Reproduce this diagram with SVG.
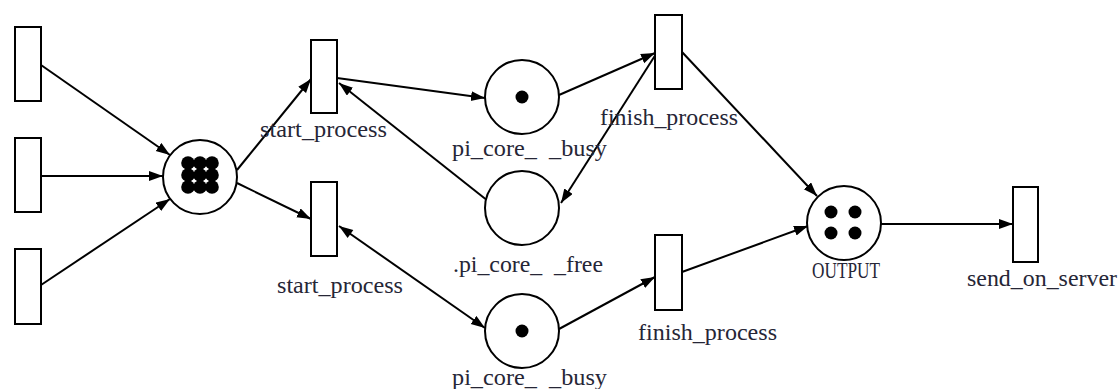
<svg xmlns="http://www.w3.org/2000/svg" width="1119" height="389" viewBox="0 0 1119 389">
<style>
.t{fill:#fff;stroke:#000;stroke-width:2}
.p{fill:#fff;stroke:#000;stroke-width:2}
.k{fill:#000}
.e{stroke:#000;stroke-width:2;fill:none}
.lb{font-family:"Liberation Serif","Times New Roman",serif;font-size:23px;fill:#262636}
</style>
<defs>
<marker id="a" markerUnits="userSpaceOnUse" markerWidth="15" markerHeight="11" refX="14" refY="5" orient="auto">
<path d="M0,0 L14,5 L0,10 z" fill="#000"/>
</marker>
<marker id="as" markerUnits="userSpaceOnUse" markerWidth="15" markerHeight="11" refX="0" refY="5" orient="auto">
<path d="M14,0 L0,5 L14,10 z" fill="#000"/>
</marker>
</defs>
<g id="connectors">
<line class="e" x1="41" y1="65" x2="170" y2="155" marker-end="url(#a)"/>
<line class="e" x1="41" y1="176" x2="163" y2="176" marker-end="url(#a)"/>
<line class="e" x1="41" y1="285" x2="170" y2="199" marker-end="url(#a)"/>
<line class="e" x1="237" y1="170" x2="311" y2="79" marker-end="url(#a)"/>
<line class="e" x1="237" y1="183" x2="311" y2="219" marker-end="url(#a)"/>
<line class="e" x1="337" y1="78" x2="485" y2="98" marker-end="url(#a)"/>
<line class="e" x1="488" y1="201" x2="339" y2="83" marker-end="url(#a)"/>
<line class="e" x1="559" y1="95" x2="655" y2="53" marker-end="url(#a)"/>
<line class="e" x1="656" y1="54" x2="561" y2="203" marker-end="url(#a)"/>
<line class="e" x1="682" y1="52" x2="817" y2="196" marker-end="url(#a)"/>
<line class="e" x1="339" y1="226" x2="485" y2="328" marker-start="url(#as)" marker-end="url(#a)"/>
<line class="e" x1="559" y1="329" x2="655" y2="277" marker-end="url(#a)"/>
<line class="e" x1="682" y1="272" x2="808" y2="226" marker-end="url(#a)"/>
<line class="e" x1="881" y1="224" x2="1013" y2="224" marker-end="url(#a)"/>
</g>
<g id="t_in1"><rect class="t" x="15" y="27" width="26" height="74"/></g>
<g id="t_in2"><rect class="t" x="15" y="138" width="26" height="74"/></g>
<g id="t_in3"><rect class="t" x="15" y="249" width="26" height="75"/></g>
<g id="p_input">
<circle class="p" cx="200" cy="177" r="37"/>
<g class="k">
<circle cx="188" cy="163" r="6.8"/><circle cx="200" cy="163" r="6.8"/><circle cx="212" cy="163" r="6.8"/>
<circle cx="188" cy="175" r="6.8"/><circle cx="200" cy="175" r="6.8"/><circle cx="212" cy="175" r="6.8"/>
<circle cx="188" cy="187" r="6.8"/><circle cx="200" cy="187" r="6.8"/><circle cx="212" cy="187" r="6.8"/>
</g>
</g>
<g id="t_start1"><rect class="t" x="311" y="40" width="26" height="73"/>
<text class="lb" x="260" y="137" textLength="127" lengthAdjust="spacingAndGlyphs">start_process</text></g>
<g id="t_start2"><rect class="t" x="311" y="182" width="26" height="74"/>
<text class="lb" x="277" y="293" textLength="126" lengthAdjust="spacingAndGlyphs">start_process</text></g>
<g id="p_busy1"><circle class="p" cx="522" cy="97" r="37"/><circle class="k" cx="522" cy="97" r="6.5"/>
<text class="lb" x="452" y="156" textLength="155" lengthAdjust="spacingAndGlyphs" xml:space="preserve">pi_core_  _busy</text></g>
<g id="p_free"><circle class="p" cx="522" cy="208" r="37"/>
<text class="lb" x="453" y="272" textLength="150" lengthAdjust="spacingAndGlyphs" xml:space="preserve">.pi_core_  _free</text></g>
<g id="p_busy2"><circle class="p" cx="522" cy="331" r="37"/><circle class="k" cx="522" cy="331" r="6.5"/>
<text class="lb" x="452" y="385" textLength="155" lengthAdjust="spacingAndGlyphs" xml:space="preserve">pi_core_  _busy</text></g>
<g id="t_finish1"><rect class="t" x="655" y="15" width="27" height="74"/>
<text class="lb" x="600" y="125" textLength="138" lengthAdjust="spacingAndGlyphs">finish_process</text></g>
<g id="t_finish2"><rect class="t" x="655" y="235" width="27" height="75"/>
<text class="lb" x="638" y="340" textLength="139" lengthAdjust="spacingAndGlyphs">finish_process</text></g>
<g id="p_output"><circle class="p" cx="844" cy="223" r="37"/>
<g class="k"><circle cx="831" cy="212" r="6.5"/><circle cx="855" cy="212" r="6.5"/><circle cx="831" cy="233" r="6.5"/><circle cx="855" cy="233" r="6.5"/></g>
<text class="lb" x="812" y="278" textLength="68" lengthAdjust="spacingAndGlyphs">OUTPUT</text></g>
<g id="t_send"><rect class="t" x="1013" y="187" width="25" height="75"/>
<text class="lb" x="967" y="286" textLength="150" lengthAdjust="spacingAndGlyphs">send_on_server</text></g>
</svg>
